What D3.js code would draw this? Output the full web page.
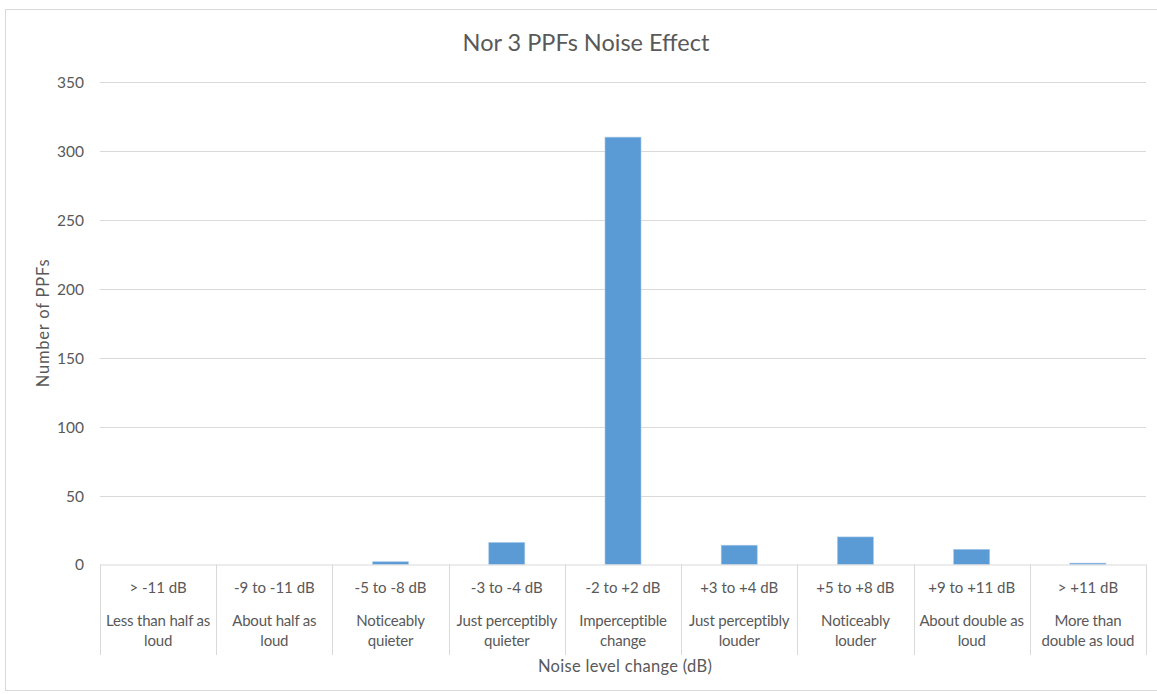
<!DOCTYPE html>
<html><head><meta charset="utf-8">
<script src="https://cdn.jsdelivr.net/npm/d3@7"></script>
<style>
body{margin:0;background:#fff;}
text{font-family:Lato,"Open Sans",sans-serif;fill:#595959;}
</style></head>
<body><svg id="c" width="1157" height="694"></svg>
<script>
const rangeLabels = ["> -11 dB","-9 to -11 dB","-5 to -8 dB","-3 to -4 dB","-2 to +2 dB","+3 to +4 dB","+5 to +8 dB","+9 to +11 dB","> +11 dB"];
const descLines = [["Less than half as","loud"],["About half as","loud"],["Noticeably","quieter"],["Just perceptibly","quieter"],["Imperceptible","change"],["Just perceptibly","louder"],["Noticeably","louder"],["About double as","loud"],["More than","double as loud"]];
const values = [0,0,2,16,310,14,20,11,1];
const yTicks = [0,50,100,150,200,250,300,350];

const svg = d3.select("#c");
const L=100, R=1146, T=82, B=564.5;
svg.append("rect").attr("x",5.5).attr("y",9.5).attr("width",1160).attr("height",681).attr("fill","#fff").attr("stroke","#d9d9d9");

const x = d3.scaleBand().domain(rangeLabels).range([L,R]).paddingInner(0).paddingOuter(0);
const y = d3.scaleLinear().domain([0,350]).range([B,T]);

// gridlines
svg.append("g").selectAll("line").data(yTicks.filter(d=>d>0)).join("line")
  .attr("x1",L).attr("x2",R).attr("y1",d=>Math.round(y(d))+0.5).attr("y2",d=>Math.round(y(d))+0.5)
  .attr("stroke","#d9d9d9").attr("stroke-width",1);

// y labels
const yAxis = d3.axisLeft(y).tickValues(yTicks).tickSize(0).tickPadding(0);
const ga = svg.append("g").attr("transform",`translate(${L-16},0)`).call(yAxis);
ga.select(".domain").remove();
ga.selectAll("text").style("font-size","15.5px").style("font-family","Lato,sans-serif").attr("fill","#595959").attr("dy","0.35em");

// bars
const bw = x.bandwidth()*0.31;
svg.append("g").selectAll("rect").data(values).join("rect")
  .attr("x",(d,i)=>x(rangeLabels[i])+x.bandwidth()/2-bw/2)
  .attr("width",bw)
  .attr("y",d=>y(d)).attr("height",d=>B-y(d))
  .attr("fill","#5b9bd5").attr("stroke","#a9c8ea").attr("stroke-width",0.6);

// x axis baseline and separators
svg.append("line").attr("x1",L).attr("x2",R).attr("y1",B+0.5).attr("y2",B+0.5).attr("stroke","#d9d9d9").attr("stroke-width",1.2);
const seps = rangeLabels.map(d=>x(d)).concat([R]);
svg.append("g").selectAll("line").data(seps).join("line")
  .attr("x1",d=>Math.round(d)+0.5).attr("x2",d=>Math.round(d)+0.5).attr("y1",B).attr("y2",655)
  .attr("stroke","#d9d9d9").attr("stroke-width",1);

// category labels
const cg = svg.append("g");
rangeLabels.forEach((r,i)=>{
  const cx = x(r)+x.bandwidth()/2;
  cg.append("text").attr("x",cx).attr("y",588).attr("dy","0.35em").attr("text-anchor","middle").style("font-size","15px").text(r);
  descLines[i].forEach((t,j)=>{
    cg.append("text").attr("x",cx).attr("y",621+j*20).attr("dy","0.35em").attr("text-anchor","middle").style("font-size","15px").style("letter-spacing","-0.2px").text(t);
  });
});

// titles
svg.append("text").attr("x",586).attr("y",43).attr("dy","0.35em").attr("text-anchor","middle").style("font-size","23.5px").text("Nor 3 PPFs Noise Effect");
svg.append("text").attr("x",625).attr("y",666).attr("dy","0.35em").attr("text-anchor","middle").style("font-size","16.5px").style("letter-spacing","0.3px").text("Noise level change (dB)");
svg.append("text").attr("transform","translate(43,323) rotate(-90)").attr("dy","0.35em").attr("text-anchor","middle").style("font-size","16.5px").style("letter-spacing","0.8px").text("Number of PPFs");
</script></body></html>
